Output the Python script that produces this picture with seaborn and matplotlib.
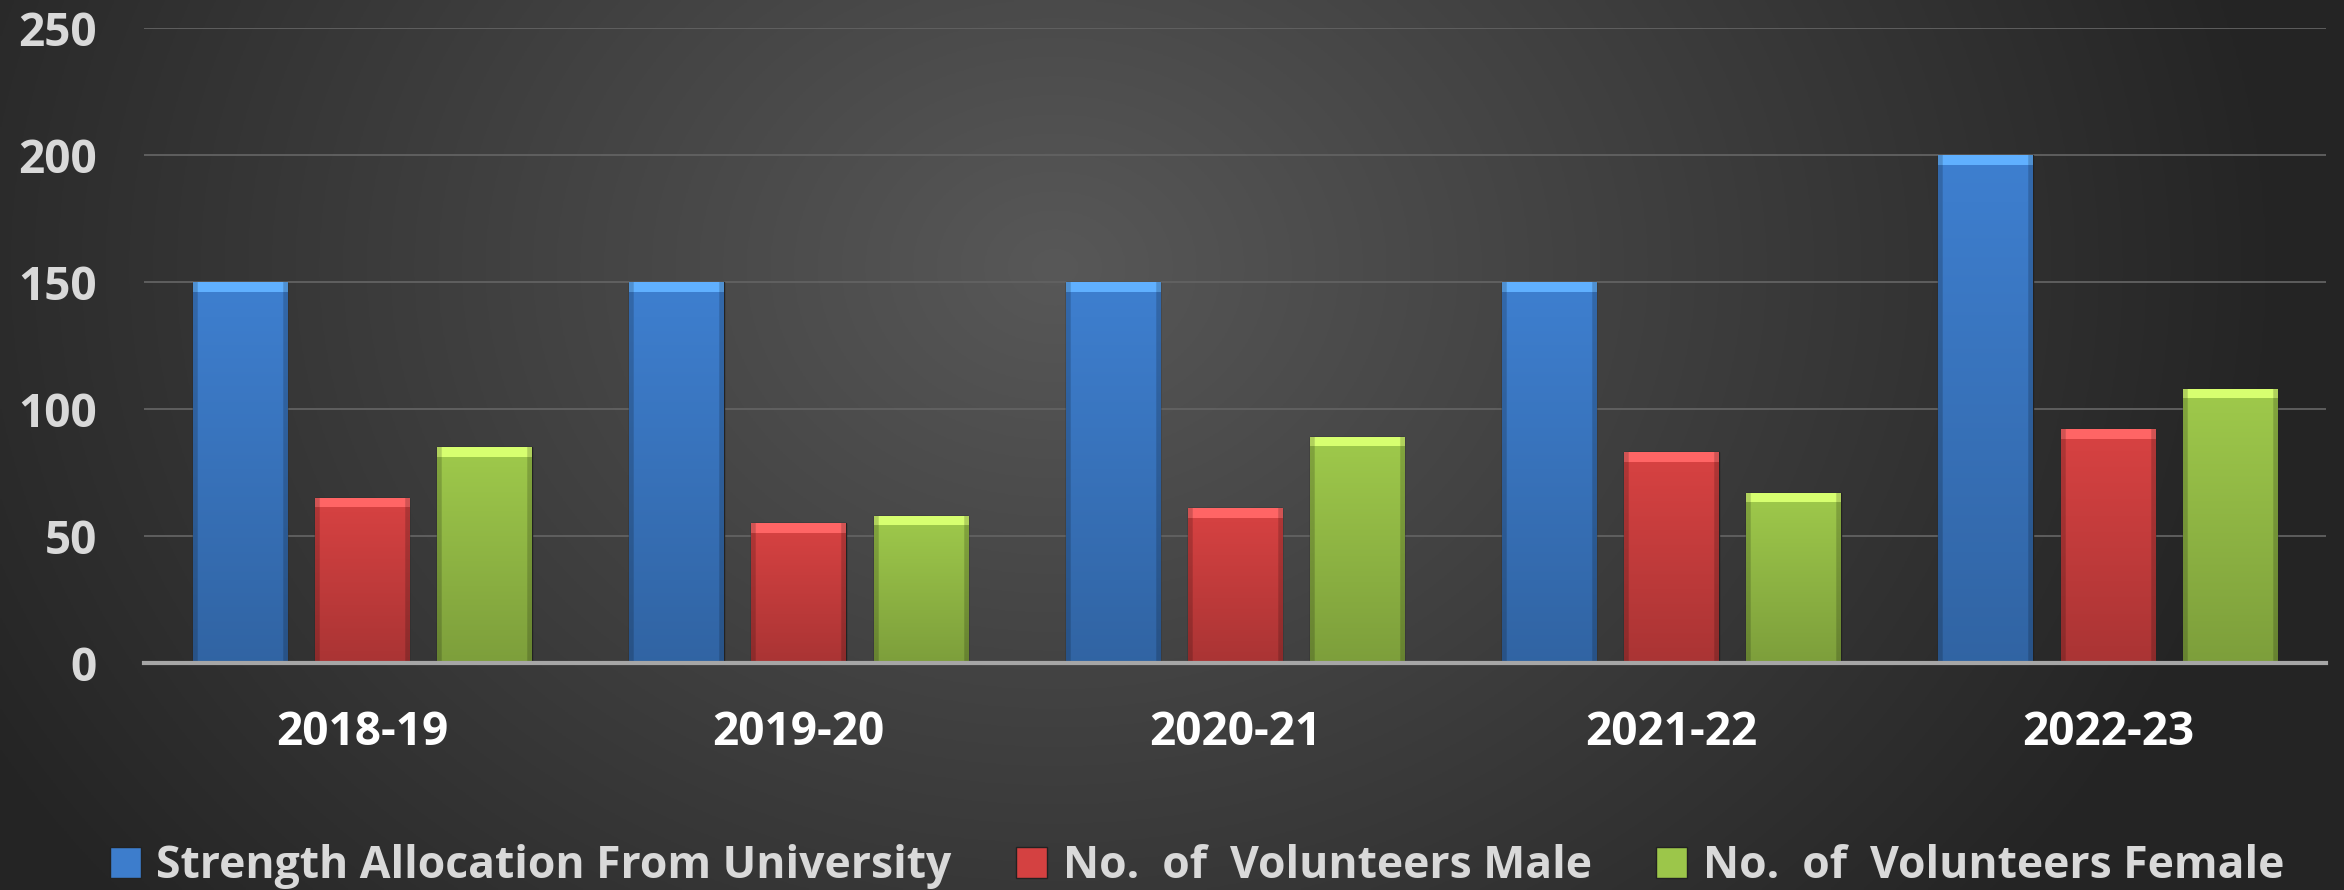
import numpy as np
import pandas as pd
import matplotlib
matplotlib.use("Agg")
import matplotlib.pyplot as plt
import matplotlib.colors as mcolors
import seaborn as sns

years = ["2018-19", "2019-20", "2020-21", "2021-22", "2022-23"]
strength_allocation = [150, 150, 150, 150, 200]
volunteers_male = [65, 55, 61, 83, 92]
volunteers_female = [85, 58, 89, 67, 108]
series_names = ["Strength Allocation From University",
                "No.  of  Volunteers Male",
                "No.  of  Volunteers Female"]
y_ticks = [0, 50, 100, 150, 200, 250]
colors = ["#3d7dcc", "#d44141", "#9cc64a"]

df = pd.DataFrame({
    "year": years * 3,
    "series": np.repeat(series_names, len(years)),
    "value": strength_allocation + volunteers_male + volunteers_female,
})

sns.set_theme(style="dark")
plt.rcParams['font.family'] = ['Open Sans', 'DejaVu Sans']
plt.rcParams['font.weight'] = 'bold'

W, H = 2344, 890
fig = plt.figure(figsize=(W / 100, H / 100), dpi=100)

# dark background, lighter towards the middle
bg = fig.add_axes([0, 0, 1, 1], zorder=0)
yy, xx = np.mgrid[0:1:300j, 0:1:800j]
d = np.sqrt(((xx - 0.45) / 0.75) ** 2 + ((yy - 0.3) / 1.6) ** 2)
shade = np.clip(0.345 - 0.29 * d, 0.145, 0.345)
bg.imshow(np.dstack([shade] * 3), aspect="auto", extent=[0, 1, 0, 1], origin="upper")
bg.set_axis_off()

ax = fig.add_axes([144 / W, 1 - 663 / H, (2326 - 144) / W, (663 - 28) / H], zorder=1)
ax.patch.set_alpha(0)

sns.barplot(data=df, x="year", y="value", hue="series", palette=colors,
            width=0.84, gap=0.227, saturation=1, ax=ax,
            edgecolor="#222222", linewidth=1.0)

ax.set_ylim(0, 250)
ax.set_yticks(y_ticks)
xlim = ax.get_xlim()

# shaded look for the bars
px_per_unit = (663 - 28) / 250
for p in list(ax.patches):
    h = p.get_height()
    if h <= 0:
        continue
    base = np.array(mcolors.to_rgb(p.get_facecolor()))
    n = max(int(h * px_per_unit), 2)
    t = np.linspace(0, 1, n)[:, None]
    col = base * (1.02 - 0.22 * t)
    col = np.repeat(col[:, None, :], 60, axis=1)
    # bright bevel at the top
    top = min(10, n)
    col[:top] = np.clip(base * 1.25 + 0.08, 0, 1)
    # darker side edges
    xs = np.linspace(0, 1, 60)
    side = 1 - 0.18 * (np.abs(xs - 0.5) > 0.46)
    col = np.clip(col * side[None, :, None], 0, 1)
    x0 = p.get_x()
    im = ax.imshow(col, extent=[x0, x0 + p.get_width(), 0, h], aspect="auto",
                   origin="upper", zorder=p.get_zorder() + 0.1)
    im.set_clip_path(p)

ax.set_xlim(xlim)
ax.set_ylim(0, 250)

ax.grid(axis="y", color="#626262", linewidth=1.3)
ax.grid(axis="x", visible=False)
ax.set_axisbelow(True)
for s in ["left", "right", "top"]:
    ax.spines[s].set_visible(False)
ax.spines["bottom"].set_color("#a6a6a6")
ax.spines["bottom"].set_linewidth(3)
ax.spines["bottom"].set_zorder(5)

ax.tick_params(axis="y", length=0, pad=34, labelsize=33, labelcolor="#d9d9d9")
ax.tick_params(axis="x", length=0, pad=33, labelsize=33, labelcolor="#ffffff")
ax.set_xlabel("")
ax.set_ylabel("")

sns.move_legend(ax, "center", bbox_to_anchor=(0.4826, -0.321), ncol=3,
                frameon=False, title=None, fontsize=32, labelcolor="#d9d9d9",
                handlelength=0.7, handleheight=0.7, handletextpad=0.35,
                columnspacing=1.45)

fig.savefig("out.png", dpi=100)
